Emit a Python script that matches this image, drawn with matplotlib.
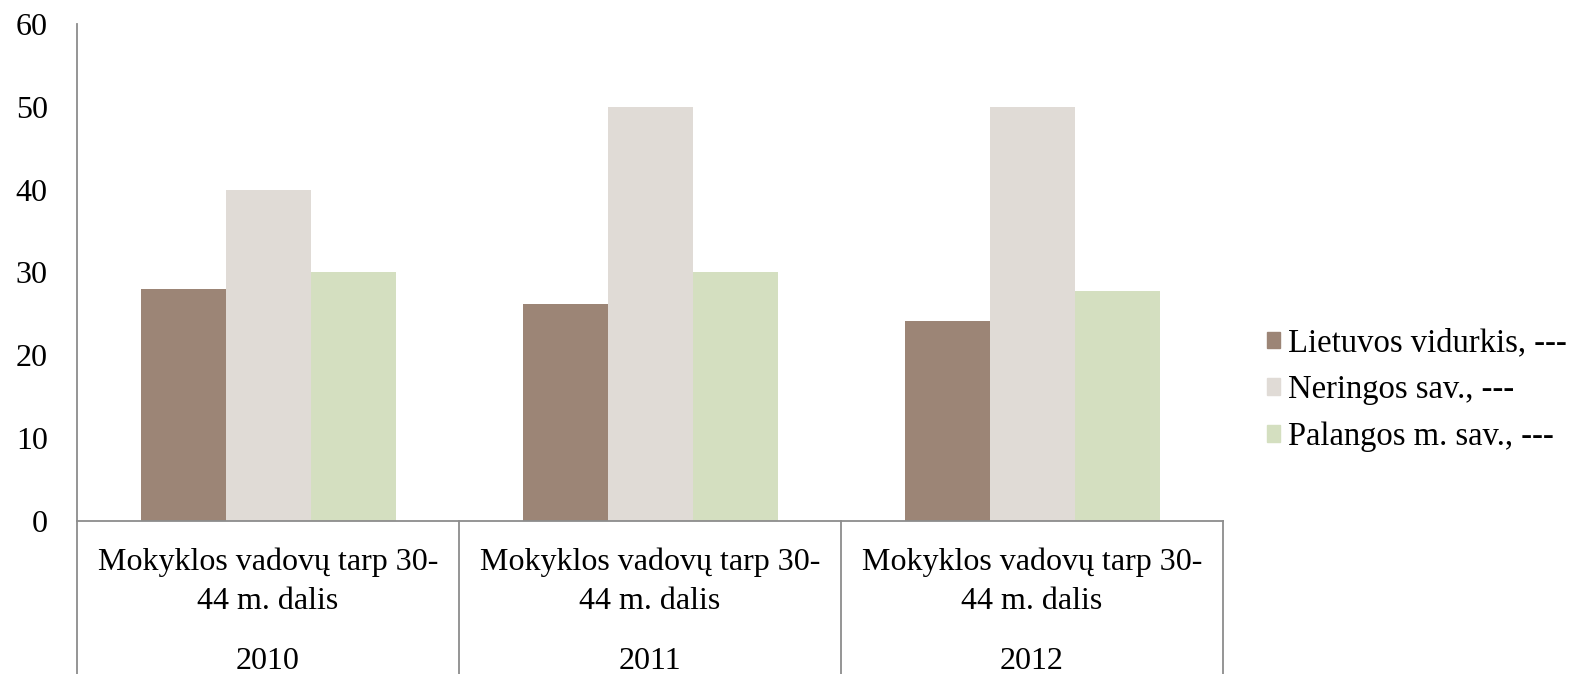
import matplotlib
matplotlib.use("Agg")
import matplotlib.pyplot as plt
import matplotlib.patches as mpatches
import numpy as np

plt.rcParams['font.family'] = ['Liberation Serif', 'DejaVu Serif']

years = ["2010", "2011", "2012"]
category = "Mokyklos vadovų tarp 30-\n44 m. dalis"
series = ["Lietuvos vidurkis, ---", "Neringos sav., ---", "Palangos m. sav., ---"]
lietuva = [28, 26.2, 24.1]
neringa = [40, 50, 50]
palanga = [30, 30, 27.8]
colors = ["#9c8576", "#e0dbd6", "#d4dfc0"]

fig = plt.figure(figsize=(15.79, 6.74), dpi=100)
ax = fig.add_axes([77/1579, 1 - 520.7/674, (1223-77)/1579, (520.7-24)/674])

x = np.arange(len(years))
w = 85/382
for i, (vals, c) in enumerate(zip([lietuva, neringa, palanga], colors)):
    ax.bar(x + (i-1)*w, vals, w, color=c, label=series[i])

ax.set_xlim(-0.5, 2.5)
ax.set_ylim(0, 60)
ax.set_yticks(range(0, 61, 10))
ax.tick_params(axis='y', length=0, pad=21, labelsize=23)
ax.set_xticks([])
for s in ["top", "right"]:
    ax.spines[s].set_visible(False)
ax.spines["left"].set_color("#8c8c8c")
ax.spines["bottom"].set_color("#8c8c8c")
ax.spines["left"].set_linewidth(1.3)
ax.spines["bottom"].set_linewidth(1.3)

# category table under the axis
tr = ax.get_xaxis_transform()
for xv in [-0.5, 0.5, 1.5, 2.5]:
    ax.plot([xv, xv], [0, -0.35], transform=tr, color="#8c8c8c", lw=1.3, clip_on=False)
for xi, yr in zip(x, years):
    ax.text(xi, -61/496.7, category, transform=tr, ha="center", va="center",
            fontsize=23, linespacing=1.45)
    ax.text(xi, -141/496.7, yr, transform=tr, ha="center", va="center", fontsize=23)

handles = [mpatches.Patch(color=c) for c in colors]
fig.legend(handles, series, loc="center left", bbox_to_anchor=(1267/1579, 1 - 390/674),
           frameon=False, fontsize=23.5, handlelength=0.4, handleheight=0.4,
           handletextpad=0.25, labelspacing=0.5, borderaxespad=0, borderpad=0)

fig.savefig("out.png", dpi=100)
